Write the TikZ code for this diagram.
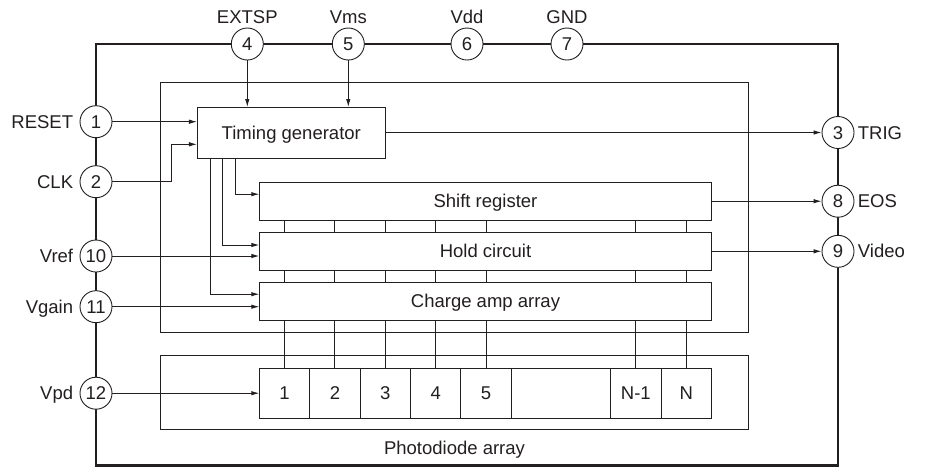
\documentclass[tikz,border=0pt]{standalone}
\usepackage{fontspec}
\setmainfont{Liberation Sans}
\usetikzlibrary{positioning,arrows.meta}
\definecolor{ink}{RGB}{35,31,32}

\begin{document}
\begin{tikzpicture}[x=1pt,y=-1pt,color=ink,line width=0.9pt,
 every node/.style={font=\fontsize{18.5}{22}\selectfont,text height=13.2pt,text depth=0pt},
 port/.style={circle,draw,fill=white,minimum size=32pt,inner sep=0pt},
 blk/.style={rectangle,draw,fill=white,inner sep=0pt,outer sep=0pt},
 cell/.style={blk,minimum width=50.4pt,minimum height=49.7pt},
 lbl/.style={inner sep=2pt},
 arr/.style={-{Latex[length=8pt,width=4.5pt]}}]
\useasboundingbox (0,0) rectangle (929,467);
\draw[line width=2.4pt] (96,44) rectangle (838,465.5);
% chip and photodiode frames
\node[blk,minimum width=588.4pt,minimum height=249.7pt] (chip) at (454.5,207.2) {};
\node[blk,minimum width=588.4pt,minimum height=73.3pt] (pdbox) at (454.5,392.3) {};
\node[lbl] (pdlbl) at (454.5,448) {Photodiode array};
% circuit blocks
\node[blk,minimum width=188.7pt,minimum height=51pt] (tg) at (291.3,132.5) {Timing generator};
\node[blk,minimum width=452.4pt,minimum height=37.7pt] (sr) at (485.5,201.2) {Shift register};
\node[blk,minimum width=452.4pt,minimum height=37.3pt] (hold) at (485.5,251.3) {Hold circuit};
\node[blk,minimum width=452.4pt,minimum height=37.7pt] (amp) at (485.5,301.2) {Charge amp array};
% photodiode cells
\node[cell,anchor=north west] (c1) at (259.3,368.3) {1};
\node[cell,right=0pt of c1] (c2) {2};
\node[cell,right=0pt of c2] (c3) {3};
\node[cell,right=0pt of c3] (c4) {4};
\node[cell,right=0pt of c4] (c5) {5};
\node[cell,right=0pt of c5,minimum width=99.3pt] (cx) {};
\node[cell,right=0pt of cx] (cm) {N-1};
\node[cell,right=0pt of cm] (cn) {N};
% pins
\node[port] (p1) at (96,121.7) {1};
\node[port] (p2) at (96,181.7) {2};
\node[port] (p3) at (838,132.5) {3};
\node[port] (p4) at (247.3,44) {4};
\node[port] (p5) at (348.3,44) {5};
\node[port] (p6) at (467,44) {6};
\node[port] (p7) at (567,44) {7};
\node[port] (p8) at (838,201.2) {8};
\node[port] (p9) at (838,251.3) {9};
\node[port] (p10) at (96,256) {10};
\node[port] (p11) at (96,306.7) {11};
\node[port] (p12) at (96,393.2) {12};
\node[lbl,above=2pt of p4] (extsp) {EXTSP};
\node[lbl,above=2pt of p5] (vms) {Vms};
\node[lbl,above=2pt of p6] (vdd) {Vdd};
\node[lbl,above=2pt of p7] (gnd) {GND};
\node[lbl,left=4pt of p1] (reset) {RESET};
\node[lbl,left=4pt of p2] (clk) {CLK};
\node[lbl,left=4pt of p10] (vref) {Vref};
\node[lbl,left=4pt of p11] (vgain) {Vgain};
\node[lbl,left=4pt of p12] (vpd) {Vpd};
\node[lbl,right=1pt of p3] (trig) {TRIG};
\node[lbl,right=1pt of p8] (eos) {EOS};
\node[lbl,right=1pt of p9] (video) {Video};
% signals
\coordinate (clkin) at (171,144.3);
\draw[arr] (p4) -- (p4 |- tg.north);
\draw[arr] (p5) -- (p5 |- tg.north);
\draw[arr] (p1) -- (p1 -| tg.west);
\draw[arr] (p2) -| (clkin) -- (clkin -| tg.west);
\draw[arr] (tg.east) -- (p3);
\draw[arr] (sr.east) -- (p8);
\draw[arr] (hold.east) -- (p9);
\draw[arr] (p10) -- (p10 -| hold.west);
\draw[arr] (p11) -- (p11 -| amp.west);
\draw[arr] (p12) -- (p12 -| c1.west);
\draw[arr] ([xshift=38.7pt]tg.south west) |- ([yshift=7pt]sr.west);
\draw[arr] ([xshift=25.3pt]tg.south west) |- ([yshift=6.3pt]hold.west);
\draw[arr] ([xshift=13pt]tg.south west) |- ([yshift=7pt]amp.west);
\foreach \c in {c1,c2,c3,c4,c5,cm,cn}
  \draw (\c.north) -- (\c |- amp.south) (\c |- amp.north) -- (\c |- hold.south)
   (\c |- hold.north) -- (\c |- sr.south);
\end{tikzpicture}
\end{document}
